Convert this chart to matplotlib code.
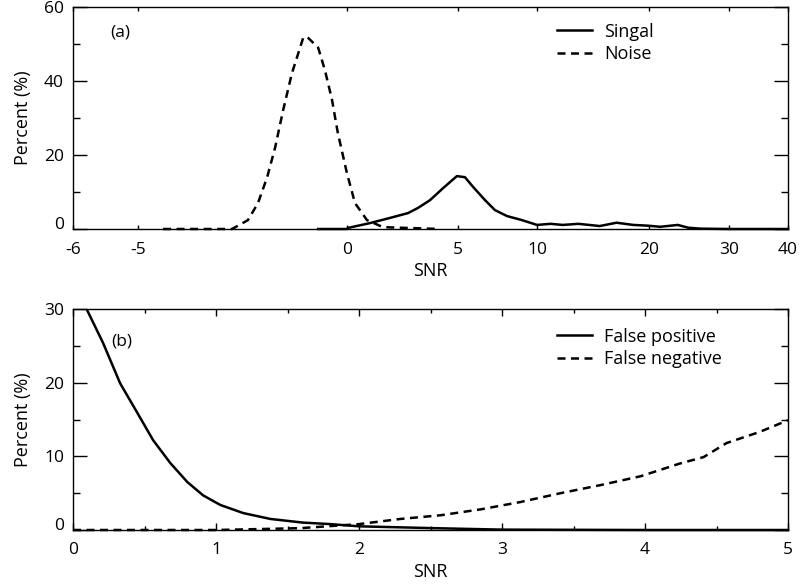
import matplotlib
matplotlib.use('Agg')
import matplotlib.pyplot as plt
import numpy as np
from matplotlib.ticker import FixedLocator, MultipleLocator, NullLocator

plt.rcParams['font.family'] = ['Open Sans', 'DejaVu Sans']

# (a) SNR distributions, the x axis of the original is unevenly spaced
tick_snr = [-6, -5, 0, 5, 10, 20, 30, 40]
tick_pos = [0, 65, 274, 385, 464, 576, 656, 715]

noise_snr = [-4.4, -2.75, -2.37, -2.13, -1.91, -1.72, -1.53, -1.32, -1.05, -0.96,
             -0.69, -0.53, -0.36, -0.22, 0.0, 0.36, 0.9, 1.62, 4.19]
noise_pct = [0, 0, 2.4, 7, 14, 22, 32, 42, 51.6, 52,
             49, 43, 35, 26, 15, 7, 2.4, 0.5, 0]

signal_snr = [-0.69, 0, 0.05, 1.04, 1.94, 2.75, 3.2, 3.74, 4.32, 4.95, 5.44, 5.95,
              6.71, 7.34, 8.1, 9.05, 10.0, 11.2, 12.3, 13.7, 15.6, 17.1, 18.6, 19.9,
              21.4, 23.6, 24.9, 26.4, 30, 40]
signal_pct = [0, 0, 0.3, 1.6, 3.0, 4.3, 5.7, 7.8, 11, 14.3, 14, 11.4,
              7.8, 5.1, 3.5, 2.4, 1.1, 1.4, 1.1, 1.4, 0.8, 1.7, 1.1, 0.9,
              0.6, 1.1, 0.35, 0.1, 0, 0]

# (b) error rates vs threshold
fp_snr = [0.1, 0.21, 0.33, 0.45, 0.56, 0.68, 0.80, 0.91, 1.03, 1.19, 1.38, 1.61,
          1.80, 2.0, 2.52, 3.0, 4.0, 5.0]
fp_pct = [29.8, 25.4, 19.9, 15.9, 12.2, 9.1, 6.5, 4.7, 3.4, 2.3, 1.5, 1.0,
          0.8, 0.5, 0.25, 0.05, 0, 0]

fn_snr = [0, 1.0, 1.59, 2.0, 2.29, 2.57, 2.85, 3.13, 3.41, 3.69, 3.97, 4.24,
          4.41, 4.57, 4.80, 5.0]
fn_pct = [0, 0, 0.25, 0.8, 1.5, 2.0, 2.8, 3.8, 5.0, 6.1, 7.3, 9.0,
          9.9, 11.8, 13.3, 14.9]


def fwd(x):
    return np.interp(x, tick_snr, tick_pos)


def inv(p):
    return np.interp(p, tick_pos, tick_snr)


lw = 1.8
dash = (3.2, 2.2)
tick_fs = 12.5
label_fs = 13

fig = plt.figure(figsize=(8.02, 5.86), dpi=100)
ax1 = fig.add_axes([73/802, 1 - 229/586, 715/802, 222/586])
ax2 = fig.add_axes([73/802, 1 - 530/586, 715/802, 221/586])

# panel (a)
ax1.set_xscale('function', functions=(fwd, inv))
ax1.plot(signal_snr, signal_pct, color='black', lw=lw, label='Singal', clip_on=False)
ax1.plot(noise_snr, noise_pct, color='black', lw=lw, dashes=dash, label='Noise', clip_on=False)
ax1.set_xlim(-6, 40)
ax1.set_ylim(0, 60)
ax1.xaxis.set_major_locator(FixedLocator(tick_snr))
ax1.xaxis.set_minor_locator(NullLocator())
ax1.xaxis.set_major_formatter(plt.FuncFormatter(lambda v, p: f'{v:g}'))
ax1.yaxis.set_major_locator(FixedLocator([0, 20, 40, 60]))
ax1.yaxis.set_minor_locator(FixedLocator([10, 30, 50]))
ax1.tick_params(axis='x', which='both', direction='in', top=True, length=3, width=1,
                pad=9.5, labelsize=tick_fs)
ax1.text(0.066, 0.883, '(a)', transform=ax1.transAxes, fontsize=12.5, ha='center', va='center')

# panel (b)
ax2.plot(fp_snr, fp_pct, color='black', lw=lw, label='False positive', clip_on=False)
ax2.plot(fn_snr, fn_pct, color='black', lw=lw, dashes=dash, label='False negative', clip_on=False)
ax2.set_xlim(0, 5)
ax2.set_ylim(0, 30)
ax2.xaxis.set_major_locator(MultipleLocator(1))
ax2.xaxis.set_minor_locator(MultipleLocator(0.5))
ax2.yaxis.set_major_locator(FixedLocator([0, 10, 20, 30]))
ax2.yaxis.set_minor_locator(FixedLocator([5, 15, 25]))
ax2.tick_params(axis='x', which='major', direction='in', top=True, length=5, width=1,
                pad=9, labelsize=tick_fs)
ax2.tick_params(axis='x', which='minor', direction='in', top=True, length=3, width=1)
ax2.text(0.0685, 0.855, '(b)', transform=ax2.transAxes, fontsize=12.5, ha='center', va='center')

for ax, ly in ((ax1, 0.93), (ax2, 0.915)):
    ax.tick_params(axis='y', which='major', direction='in', right=True, length=10, width=1,
                   pad=6.5, labelsize=tick_fs)
    ax.tick_params(axis='y', which='minor', direction='in', right=True, length=5, width=1)
    for s in ax.spines.values():
        s.set_linewidth(1.0)
    ax.set_xlabel('SNR', fontsize=label_fs, labelpad=3)
    ax.set_ylabel('Percent (%)', fontsize=label_fs)
    ax.yaxis.set_label_coords(-0.057, 0.5)
    ax.legend(loc='upper left', bbox_to_anchor=(0.677, ly), frameon=False, fontsize=label_fs,
              handlelength=1.95, handletextpad=0.65, borderpad=0, borderaxespad=0,
              labelspacing=0.25)
    # the zero label sits on the corner, raised a little
    ax.get_yticklabels()[0].set_va('baseline')

fig.savefig('out.png', dpi=100)
